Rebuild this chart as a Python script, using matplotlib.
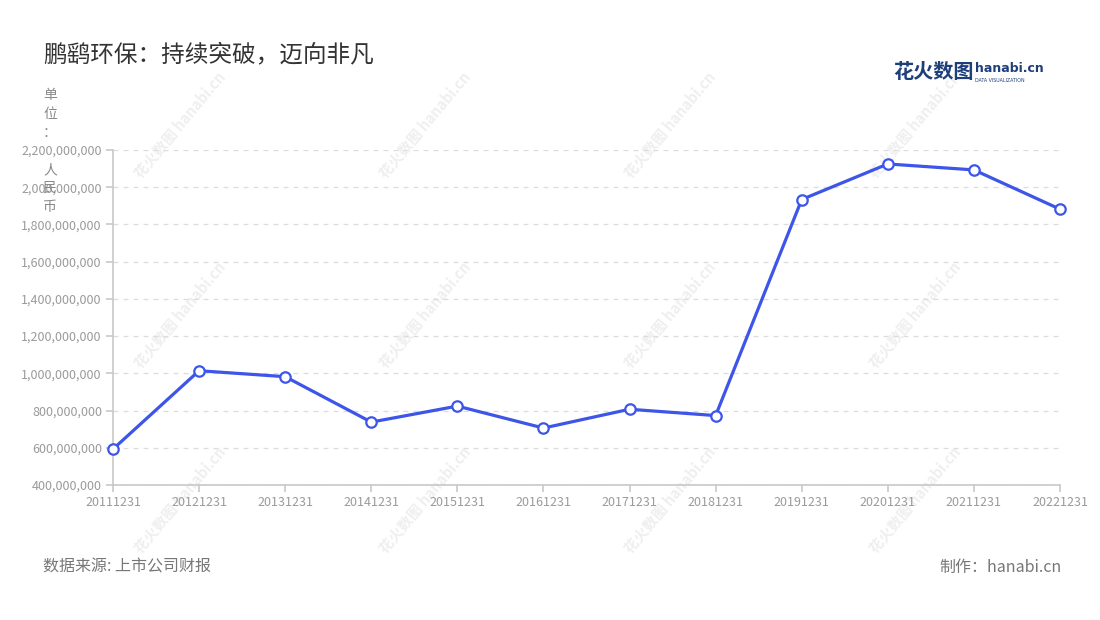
import matplotlib
matplotlib.use('Agg')
import matplotlib.pyplot as plt
from matplotlib.ticker import FuncFormatter

plt.rcParams['font.family'] = ['Noto Sans CJK SC', 'DejaVu Sans']

years = ['20111231', '20121231', '20131231', '20141231', '20151231', '20161231',
         '20171231', '20181231', '20191231', '20201231', '20211231', '20221231']
revenue = [593e6, 1014e6, 982e6, 738e6, 824e6, 706e6,
           807e6, 773e6, 1934e6, 2125e6, 2093e6, 1882e6]
y_ticks = [400e6, 600e6, 800e6, 1000e6, 1200e6, 1400e6, 1600e6, 1800e6, 2000e6, 2200e6]

title = '鹏鹞环保：持续突破，迈向非凡'
unit_chars = ['单', '位', '：', '人', '民', '币']
source = '数据来源: 上市公司财报'
maker = '制作：hanabi.cn'

W, H = 1100, 620
fig = plt.figure(figsize=(11, 6.2), dpi=100)
fig.patch.set_facecolor('white')

def fx(px):
	return px / W

def fy(py):
	return 1 - py / H

# watermark grid
for cx in [180, 425, 670, 915]:
	for cy in [125, 315, 500]:
		fig.text(fx(cx), fy(cy), '花火数图 hanabi.cn', rotation=50, fontsize=10.5,
			color='#efefef', ha='center', va='center', fontweight='bold', zorder=-5)

ax = fig.add_axes([fx(113), fy(485), fx(1060) - fx(113), fy(150) - fy(485)])
ax.set_facecolor('none')

x = list(range(len(years)))
ax.plot(x, revenue, color='#3d55e8', lw=2.3, marker='o', markersize=7.5,
	markerfacecolor='white', markeredgecolor='#3d55e8', markeredgewidth=1.6,
	zorder=5, clip_on=False)

ax.set_xlim(0, len(years) - 1)
ax.set_ylim(400e6, 2200e6)
ax.set_xticks(x)
ax.set_xticklabels(years)
ax.set_yticks(y_ticks)
ax.yaxis.set_major_formatter(FuncFormatter(lambda v, p: '{:,.0f}'.format(v)))

ax.grid(axis='y', color='#dcdcdc', linestyle=(0, (4, 4)), lw=0.9)
ax.set_axisbelow(True)
for s in ['top', 'right']:
	ax.spines[s].set_visible(False)
for s in ['left', 'bottom']:
	ax.spines[s].set_color('#c8c8c8')
	ax.spines[s].set_linewidth(1.2)
ax.tick_params(axis='both', colors='#c8c8c8', labelcolor='#9a9a9a', labelsize=9,
	length=5, width=1.2, pad=3)

# title
fig.text(fx(43), fy(55), title, fontsize=17, color='#333333', ha='left', va='center')

# unit label, stacked vertically
unit_pos = [95, 114, 133, 170, 188, 207]
for ch, py in zip(unit_chars, unit_pos):
	fig.text(fx(50), fy(py), ch, fontsize=10, color='#888888', ha='center', va='center')

# logo
fig.text(fx(893), fy(72), '花火数图', fontsize=14.5, color='#1d3f7a', fontweight='bold',
	ha='left', va='center')
fig.text(fx(975), fy(68), 'hanabi.cn', fontsize=9, color='#1d3f7a', fontweight='bold',
	ha='left', va='center', family=['DejaVu Sans'])
fig.text(fx(975), fy(80), 'DATA VISUALIZATION', fontsize=3.4, color='#1d3f7a',
	ha='left', va='center', family=['DejaVu Sans'])

# footer
fig.text(fx(43), fy(567), source, fontsize=11.5, color='#777777', ha='left', va='center')
fig.text(fx(1062), fy(567), maker, fontsize=11.5, color='#777777', ha='right', va='center')

fig.savefig('out.png', dpi=100, facecolor='white')
